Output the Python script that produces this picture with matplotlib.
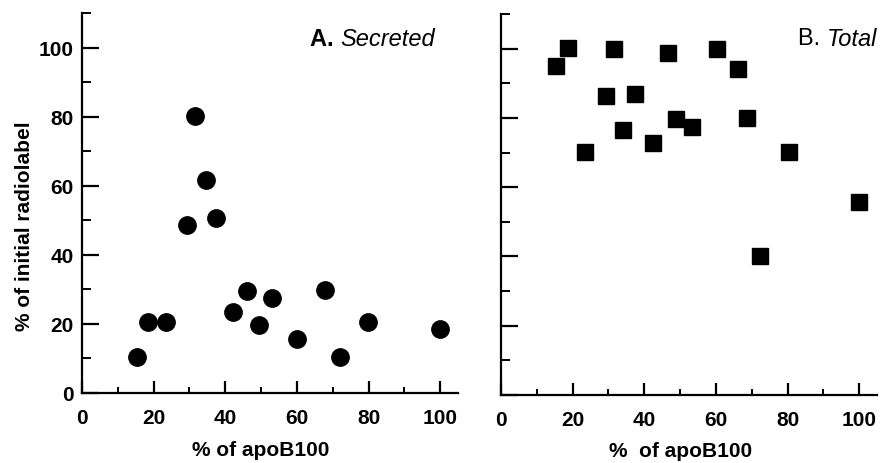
import matplotlib
matplotlib.use("Agg")
import matplotlib.pyplot as plt
from matplotlib.ticker import MultipleLocator

plt.rcParams['font.family'] = ['Liberation Sans', 'DejaVu Sans']

# Panel A: secreted
sec_x = [15.3, 18.3, 23.4, 29.2, 31.6, 34.5, 37.4, 42.1, 46.1, 49.4, 53.1, 59.9, 67.9, 72.1, 79.9, 100.0]
sec_y = [10.5, 20.5, 20.5, 48.7, 80.2, 61.8, 50.6, 23.6, 29.6, 19.6, 27.5, 15.6, 29.9, 10.3, 20.5, 18.4]

# Panel B: total
tot_x = [15.3, 18.7, 23.4, 29.4, 31.5, 34.2, 37.3, 42.5, 46.5, 48.9, 53.3, 60.4, 66.2, 68.6, 72.3, 80.3, 100.1]
tot_y = [95.0, 100.1, 70.1, 86.2, 99.9, 76.5, 86.8, 72.8, 98.8, 79.8, 77.3, 99.9, 94.0, 80.0, 40.2, 70.3, 55.8]

x_ticks = [0, 20, 40, 60, 80, 100]
y_ticks = [0, 20, 40, 60, 80, 100]

fig = plt.figure(figsize=(8.81, 4.64), dpi=100)
axA = fig.add_axes([0.0931, 0.1509, 0.4268, 0.818])
axB = fig.add_axes([0.5687, 0.1466, 0.4268, 0.821])


def style(ax, ylabels):
    ax.set_xlim(0, 105)
    ax.set_ylim(0, 110)
    for s in ['top', 'right']:
        ax.spines[s].set_visible(False)
    for s in ['left', 'bottom']:
        ax.spines[s].set_linewidth(1.6)
    ax.set_xticks(x_ticks)
    ax.set_yticks(y_ticks)
    ax.xaxis.set_minor_locator(MultipleLocator(10))
    ax.yaxis.set_minor_locator(MultipleLocator(10))
    ax.tick_params(axis='y', which='major', direction='in', length=12, width=1.6,
                   pad=6, labelsize=15, labelleft=ylabels)
    ax.tick_params(axis='y', which='minor', direction='in', length=6.5, width=1.4)
    ax.tick_params(axis='x', which='major', direction='in', length=9, width=1.6,
                   pad=11, labelsize=15)
    ax.tick_params(axis='x', which='minor', direction='in', length=4.5, width=1.4)
    for lab in ax.get_xticklabels() + ax.get_yticklabels():
        lab.set_fontweight('bold')


style(axA, True)
style(axB, False)

axA.plot(sec_x, sec_y, 'o', color='black', markersize=12.5, clip_on=False)
axB.plot(tot_x, tot_y, 's', color='black', markersize=11.5, clip_on=False)

axA.set_xlabel("% of apoB100", fontsize=15, fontweight='bold')
axA.xaxis.set_label_coords(50 / 105, -0.123)
axB.set_xlabel("%  of apoB100", fontsize=15, fontweight='bold')
axB.xaxis.set_label_coords(50 / 105, -0.122)
axA.set_ylabel("% of initial radiolabel", fontsize=15, fontweight='bold')
axA.yaxis.set_label_coords(-0.128, 0.443)

# panel titles: upright letter + italic word
tA = axA.text(0.939, 0.935, "Secreted", transform=axA.transAxes, ha='right',
              va='center', fontsize=17, fontstyle='italic')
axA.annotate("A. ", xy=(0, 0.5), xycoords=tA, ha='right', va='center',
             fontsize=17, fontweight='bold')
tB = axB.text(1.0, 0.937, "Total", transform=axB.transAxes, ha='right',
              va='center', fontsize=17, fontstyle='italic')
axB.annotate("B. ", xy=(0, 0.5), xycoords=tB, ha='right', va='center',
             fontsize=17)

fig.savefig("out.png", dpi=100)
